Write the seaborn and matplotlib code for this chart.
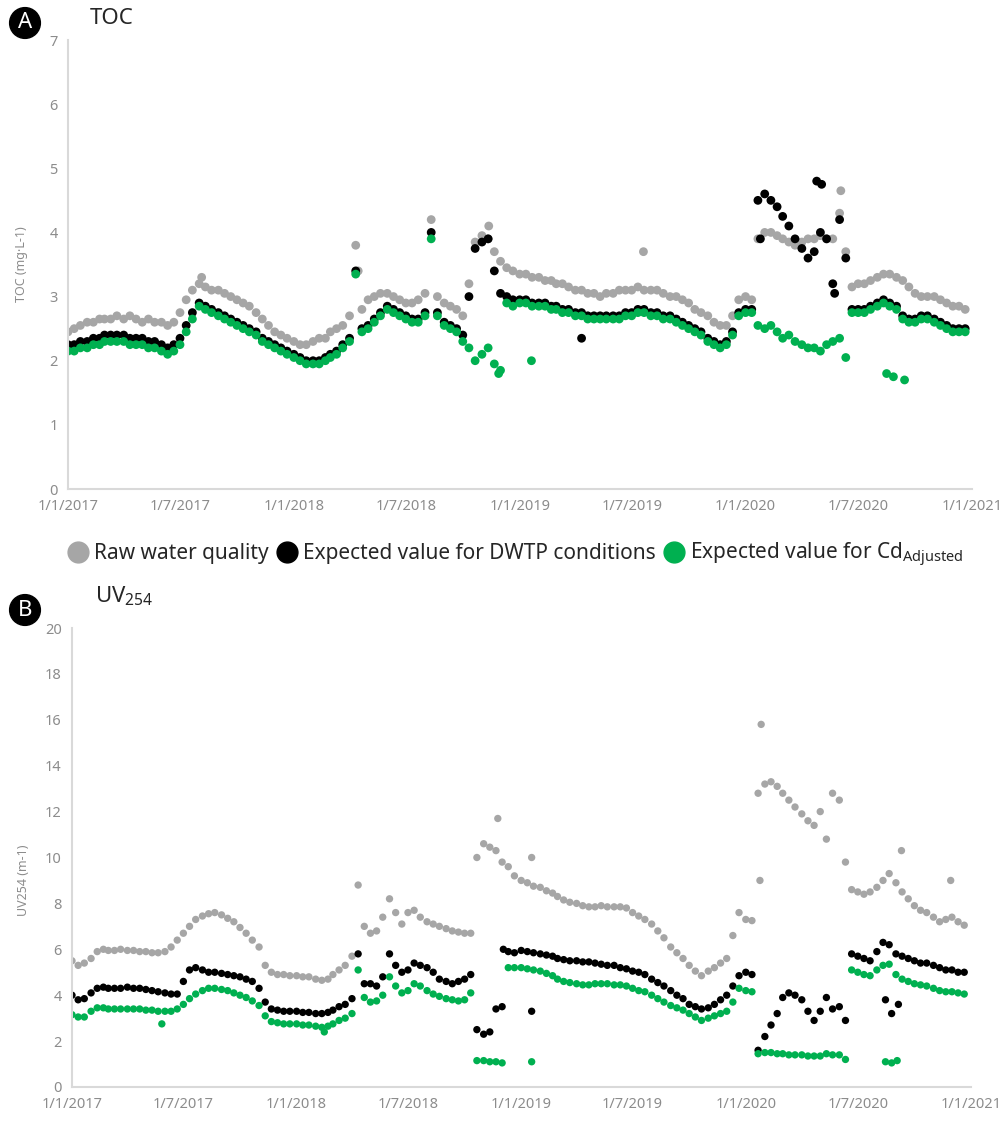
import pandas as pd
import matplotlib
matplotlib.use("Agg")
import matplotlib.pyplot as plt
import matplotlib.dates as mdates
from matplotlib.ticker import MultipleLocator, FuncFormatter
from matplotlib.lines import Line2D
import seaborn as sns

sns.set_style("white")
plt.rcParams["font.family"] = ["Noto Sans", "DejaVu Sans"]
plt.rcParams["mathtext.fontset"] = "custom"
plt.rcParams["mathtext.rm"] = "Noto Sans"
plt.rcParams["mathtext.it"] = "Noto Sans:italic"

# --- data: values read at the 1st, 11th and 21st of every month (one row per year) ---
dates = [pd.Timestamp(y, m, d) for y in range(2017, 2021) for m in range(1, 13) for d in (1, 11, 21)]

toc_raw = [
    2.45, 2.5, 2.55, 2.6, 2.6, 2.65, 2.65, 2.65, 2.7, 2.65, 2.7, 2.65, 2.6, 2.65, 2.6, 2.6, 2.55, 2.6, 2.75, 2.95, 3.1, 3.2, 3.15, 3.1, 3.1, 3.05, 3.0, 2.95, 2.9, 2.85, 2.75, 2.65, 2.55, 2.45, 2.4, 2.35,
    2.3, 2.25, 2.25, 2.3, 2.35, 2.35, 2.45, 2.5, 2.55, 2.7, 3.8, 2.8, 2.95, 3.0, 3.05, 3.05, 3.0, 2.95, 2.9, 2.9, 2.95, 3.05, 4.2, 3.0, 2.9, 2.85, 2.8, 2.7, 3.2, 3.85, 3.95, 3.9, 3.7, 3.55, 3.45, 3.4,
    3.35, 3.35, 3.3, 3.3, 3.25, 3.25, 3.2, 3.2, 3.15, 3.1, 3.1, 3.05, 3.05, 3.0, 3.05, 3.05, 3.1, 3.1, 3.1, 3.15, 3.1, 3.1, 3.1, 3.05, 3.0, 3.0, 2.95, 2.9, 2.8, 2.75, 2.7, 2.6, 2.55, 2.55, 2.7, 2.95,
    3.0, 2.95, 3.9, 4.0, 4.0, 3.95, 3.9, 3.85, 3.8, 3.85, 3.9, 3.9, 3.95, 3.9, 3.9, 4.3, 3.7, 3.15, 3.2, 3.2, 3.25, 3.3, 3.35, 3.35, 3.3, 3.25, 3.15, 3.05, 3.0, 3.0, 3.0, 2.95, 2.9, 2.85, 2.85, 2.8,
]
toc_dwtp = [
    2.25, 2.25, 2.3, 2.3, 2.35, 2.35, 2.4, 2.4, 2.4, 2.4, 2.35, 2.35, 2.35, 2.3, 2.3, 2.25, 2.2, 2.25, 2.35, 2.55, 2.75, 2.9, 2.85, 2.8, 2.75, 2.7, 2.65, 2.6, 2.55, 2.5, 2.45, 2.35, 2.3, 2.25, 2.2, 2.15,
    2.1, 2.05, 2.0, 2.0, 2.0, 2.05, 2.1, 2.15, 2.25, 2.35, 3.4, 2.5, 2.55, 2.65, 2.75, 2.85, 2.8, 2.75, 2.7, 2.65, 2.65, 2.75, 4.0, 2.75, 2.6, 2.55, 2.5, 2.4, 3.0, 3.75, 3.85, 3.9, 3.4, 3.05, 3.0, 2.95,
    2.95, 2.95, 2.9, 2.9, 2.9, 2.85, 2.85, 2.8, 2.8, 2.75, 2.75, 2.7, 2.7, 2.7, 2.7, 2.7, 2.7, 2.75, 2.75, 2.8, 2.8, 2.75, 2.75, 2.7, 2.7, 2.65, 2.6, 2.55, 2.5, 2.45, 2.35, 2.3, 2.25, 2.3, 2.45, 2.75,
    2.8, 2.8, 4.5, 4.6, 4.5, 4.4, 4.25, 4.1, 3.9, 3.75, 3.6, 3.7, 4.0, 3.9, 3.2, 4.2, 3.6, 2.8, 2.8, 2.8, 2.85, 2.9, 2.95, 2.9, 2.85, 2.7, 2.65, 2.65, 2.7, 2.7, 2.65, 2.6, 2.55, 2.5, 2.5, 2.5,
]
toc_cd = [
    2.15, 2.15, 2.2, 2.2, 2.25, 2.25, 2.3, 2.3, 2.3, 2.3, 2.25, 2.25, 2.25, 2.2, 2.2, 2.15, 2.1, 2.15, 2.25, 2.45, 2.65, 2.85, 2.8, 2.75, 2.7, 2.65, 2.6, 2.55, 2.5, 2.45, 2.4, 2.3, 2.25, 2.2, 2.15, 2.1,
    2.05, 2.0, 1.95, 1.95, 1.95, 2.0, 2.05, 2.1, 2.2, 2.3, 3.35, 2.45, 2.5, 2.6, 2.7, 2.8, 2.75, 2.7, 2.65, 2.6, 2.6, 2.7, 3.9, 2.7, 2.55, 2.5, 2.45, 2.3, 2.2, 2.0, 2.1, 2.2, 1.95, 1.85, 2.9, 2.85,
    2.9, 2.9, 2.85, 2.85, 2.85, 2.8, 2.8, 2.75, 2.75, 2.7, 2.7, 2.65, 2.65, 2.65, 2.65, 2.65, 2.65, 2.7, 2.7, 2.75, 2.75, 2.7, 2.7, 2.65, 2.65, 2.6, 2.55, 2.5, 2.45, 2.4, 2.3, 2.25, 2.2, 2.25, 2.4, 2.7,
    2.75, 2.75, 2.55, 2.5, 2.55, 2.45, 2.35, 2.4, 2.3, 2.25, 2.2, 2.2, 2.15, 2.25, 2.3, 2.35, 2.05, 2.75, 2.75, 2.75, 2.8, 2.85, 2.9, 2.85, 2.8, 2.65, 2.6, 2.6, 2.65, 2.65, 2.6, 2.55, 2.5, 2.45, 2.45, 2.45,
]

uv_raw = [
    5.5, 5.3, 5.4, 5.6, 5.9, 6.0, 5.95, 5.95, 6.0, 5.95, 5.95, 5.9, 5.9, 5.85, 5.85, 5.9, 6.1, 6.4, 6.7, 7.0, 7.3, 7.45, 7.55, 7.6, 7.5, 7.35, 7.2, 6.95, 6.7, 6.4, 6.1, 5.3, 5.0, 4.9, 4.9, 4.85,
    4.85, 4.8, 4.8, 4.7, 4.65, 4.7, 4.9, 5.1, 5.3, 5.7, 8.8, 7.0, 6.7, 6.8, 7.4, 8.2, 7.6, 7.1, 7.6, 7.7, 7.4, 7.2, 7.1, 7.0, 6.9, 6.8, 6.75, 6.7, 6.7, 10.0, 10.6, 10.45, 10.3, 9.8, 9.6, 9.2,
    9.0, 8.9, 8.75, 8.7, 8.55, 8.45, 8.3, 8.15, 8.05, 8.0, 7.9, 7.85, 7.85, 7.9, 7.85, 7.85, 7.85, 7.8, 7.6, 7.45, 7.3, 7.1, 6.8, 6.5, 6.1, 5.85, 5.6, 5.3, 5.05, 4.85, 5.05, 5.2, 5.4, 5.6, 6.6, 7.6,
    7.3, 7.25, 12.8, 13.2, 13.3, 13.1, 12.8, 12.5, 12.2, 11.9, 11.6, 11.4, 12.0, 10.8, 12.8, 12.5, 9.8, 8.6, 8.5, 8.4, 8.5, 8.7, 9.0, 9.3, 8.9, 8.5, 8.2, 7.9, 7.7, 7.6, 7.4, 7.2, 7.3, 7.4, 7.2, 7.05,
]
uv_dwtp = [
    4.0, 3.8, 3.85, 4.1, 4.3, 4.35, 4.3, 4.3, 4.3, 4.35, 4.3, 4.3, 4.25, 4.2, 4.15, 4.1, 4.05, 4.05, 4.6, 5.1, 5.2, 5.1, 5.0, 5.0, 4.95, 4.9, 4.85, 4.8, 4.7, 4.6, 4.3, 3.7, 3.4, 3.35, 3.3, 3.3,
    3.3, 3.25, 3.25, 3.2, 3.2, 3.25, 3.35, 3.5, 3.6, 3.85, 5.8, 4.5, 4.5, 4.4, 4.8, 5.8, 5.3, 5.0, 5.1, 5.4, 5.3, 5.2, 5.0, 4.7, 4.6, 4.5, 4.6, 4.7, 4.9, 2.5, 2.3, 2.4, 3.4, 3.5, 5.9, 5.85,
    5.95, 5.9, 5.85, 5.8, 5.75, 5.7, 5.6, 5.55, 5.5, 5.5, 5.45, 5.45, 5.4, 5.35, 5.3, 5.3, 5.2, 5.15, 5.05, 5.0, 4.9, 4.7, 4.55, 4.4, 4.2, 4.0, 3.85, 3.6, 3.5, 3.4, 3.45, 3.6, 3.8, 4.0, 4.4, 4.85,
    5.0, 4.9, 1.6, 2.2, 2.7, 3.2, 3.9, 4.1, 4.0, 3.8, 3.3, 2.9, 3.3, 3.9, 3.4, 3.5, 2.9, 5.8, 5.7, 5.6, 5.5, 5.9, 6.3, 6.2, 5.8, 5.7, 5.6, 5.5, 5.4, 5.4, 5.3, 5.2, 5.1, 5.1, 5.0, 5.0,
]
uv_cd = [
    3.15, 3.05, 3.05, 3.3, 3.45, 3.45, 3.4, 3.4, 3.4, 3.4, 3.4, 3.4, 3.35, 3.35, 3.3, 3.3, 3.3, 3.4, 3.6, 3.85, 4.05, 4.2, 4.3, 4.3, 4.25, 4.2, 4.1, 4.0, 3.9, 3.75, 3.55, 3.1, 2.85, 2.8, 2.75, 2.75,
    2.75, 2.7, 2.7, 2.65, 2.6, 2.65, 2.75, 2.9, 3.0, 3.2, 5.1, 3.9, 3.7, 3.75, 4.0, 4.8, 4.4, 4.1, 4.2, 4.5, 4.4, 4.2, 4.05, 3.95, 3.85, 3.8, 3.75, 3.8, 4.1, 1.15, 1.15, 1.1, 1.1, 1.05, 5.2, 5.2,
    5.2, 5.15, 5.1, 5.05, 4.95, 4.85, 4.7, 4.6, 4.55, 4.5, 4.45, 4.45, 4.5, 4.5, 4.5, 4.45, 4.45, 4.4, 4.3, 4.2, 4.15, 4.0, 3.85, 3.7, 3.55, 3.45, 3.35, 3.2, 3.05, 2.9, 3.0, 3.1, 3.2, 3.3, 3.7, 4.3,
    4.2, 4.15, 1.45, 1.5, 1.5, 1.45, 1.45, 1.4, 1.4, 1.4, 1.35, 1.35, 1.35, 1.45, 1.4, 1.4, 1.2, 5.1, 5.0, 4.9, 4.85, 5.1, 5.3, 5.35, 4.9, 4.7, 4.6, 4.5, 4.45, 4.4, 4.3, 4.2, 4.15, 4.15, 4.1, 4.05,
]

# isolated outlying points (date, value)
toc_raw_extra = [("2017-08-05", 3.3), ("2018-04-15", 3.4), ("2018-11-12", 4.1), ("2019-07-20", 3.7), ("2020-06-03", 4.65)]
toc_dwtp_extra = [("2019-04-11", 2.35), ("2020-01-25", 3.9), ("2020-04-25", 4.8), ("2020-05-03", 4.75), ("2020-05-24", 3.05)]
toc_cd_extra = [("2018-11-28", 1.8), ("2019-01-20", 2.0), ("2020-08-16", 1.8), ("2020-08-27", 1.75), ("2020-09-14", 1.7)]
uv_raw_extra = [("2018-11-24", 11.7), ("2019-01-18", 10.0), ("2020-01-24", 9.0), ("2020-01-26", 15.8), ("2020-09-10", 10.3), ("2020-11-29", 9.0)]
uv_dwtp_extra = [("2018-12-03", 6.0), ("2019-01-18", 3.3), ("2020-08-15", 3.8), ("2020-08-25", 3.2), ("2020-09-05", 3.6)]
uv_cd_extra = [("2017-05-27", 2.75), ("2018-02-15", 2.4), ("2019-01-18", 1.1), ("2020-08-15", 1.1), ("2020-08-25", 1.05), ("2020-09-03", 1.15)]

labels = ["Raw water quality", "Expected value for DWTP conditions", "Expected value for Cd$_{\\mathregular{Adjusted}}$"]
colors = ["#a6a6a6", "#000000", "#00b050"]


def build_frame(series_list, extra_list):
    parts = []
    for name, vals, extra in zip(labels, series_list, extra_list):
        d = pd.DataFrame({"date": dates, "value": vals})
        e = pd.DataFrame({"date": pd.to_datetime([x[0] for x in extra]), "value": [x[1] for x in extra]})
        both = pd.concat([d, e], ignore_index=True)
        both["series"] = name
        parts.append(both)
    return pd.concat(parts, ignore_index=True)


toc_df = build_frame([toc_raw, toc_dwtp, toc_cd], [toc_raw_extra, toc_dwtp_extra, toc_cd_extra])
uv_df = build_frame([uv_raw, uv_dwtp, uv_cd], [uv_raw_extra, uv_dwtp_extra, uv_cd_extra])

fig = plt.figure(figsize=(10.06, 11.24), dpi=100)
ax1 = fig.add_axes([68 / 1006, 1 - 489 / 1124, 904 / 1006, 449 / 1124])
ax2 = fig.add_axes([72 / 1006, 1 - 1087 / 1124, 899 / 1006, 459 / 1124])

palette = dict(zip(labels, colors))
sns.scatterplot(data=toc_df, x="date", y="value", hue="series", palette=palette,
                s=40, edgecolor="none", linewidth=0, legend=False, ax=ax1)
sns.scatterplot(data=uv_df, x="date", y="value", hue="series", palette=palette,
                s=28, edgecolor="none", linewidth=0, legend=False, ax=ax2)


def date_label(x, pos):
    d = mdates.num2date(x)
    return f"{d.day}/{d.month}/{d.year}"


axis_grey = "#d9d9d9"
text_grey = "#8c8c8c"
for ax, top, step in [(ax1, 7, 0.5), (ax2, 20, 1)]:
    ax.set_xlim(pd.Timestamp("2017-01-01"), pd.Timestamp("2021-01-01"))
    ax.set_ylim(0, top)
    ax.xaxis.set_major_locator(mdates.MonthLocator(bymonth=[1, 7]))
    ax.xaxis.set_major_formatter(FuncFormatter(date_label))
    ax.yaxis.set_major_locator(MultipleLocator(2 * step))
    ax.yaxis.set_minor_locator(MultipleLocator(step))
    for side in ["top", "right"]:
        ax.spines[side].set_visible(False)
    for side in ["left", "bottom"]:
        ax.spines[side].set_color(axis_grey)
        ax.spines[side].set_linewidth(1.5)
    ax.tick_params(which="both", direction="inout", length=8, width=1.2, color=axis_grey,
                   labelcolor=text_grey, labelsize=10.5)
    ax.set_xlabel("")

ax1.set_ylabel("TOC (mg·L-1)", color=text_grey, fontsize=9)
ax1.yaxis.set_label_coords(-0.044, 0.5)
ax2.set_ylabel("UV254 (m-1)", color=text_grey, fontsize=9)
ax2.yaxis.set_label_coords(-0.047, 0.45)

# panel letters and titles
for y, letter in [(23, "A"), (610, "B")]:
    fig.text(25 / 1006, 1 - y / 1124, letter, color="white", fontsize=16,
             ha="center", va="center",
             bbox=dict(boxstyle="circle,pad=0.22", fc="black", ec="black"))
fig.text(90 / 1006, 1 - 18 / 1124, "TOC", fontsize=16, color="#262626", va="center")
fig.text(95 / 1006, 1 - 596 / 1124, "UV$_{\\mathregular{254}}$", fontsize=16, color="#262626", va="center")

handles = [Line2D([], [], marker="o", linestyle="", markersize=15, color=c) for c in colors]
fig.legend(handles, labels, loc="center", bbox_to_anchor=(515 / 1006, 1 - 555 / 1124), ncol=3,
           frameon=False, fontsize=15, handletextpad=0.2, columnspacing=0.35, handlelength=1.1,
           labelcolor="#262626")

fig.savefig("out.png", dpi=100)
